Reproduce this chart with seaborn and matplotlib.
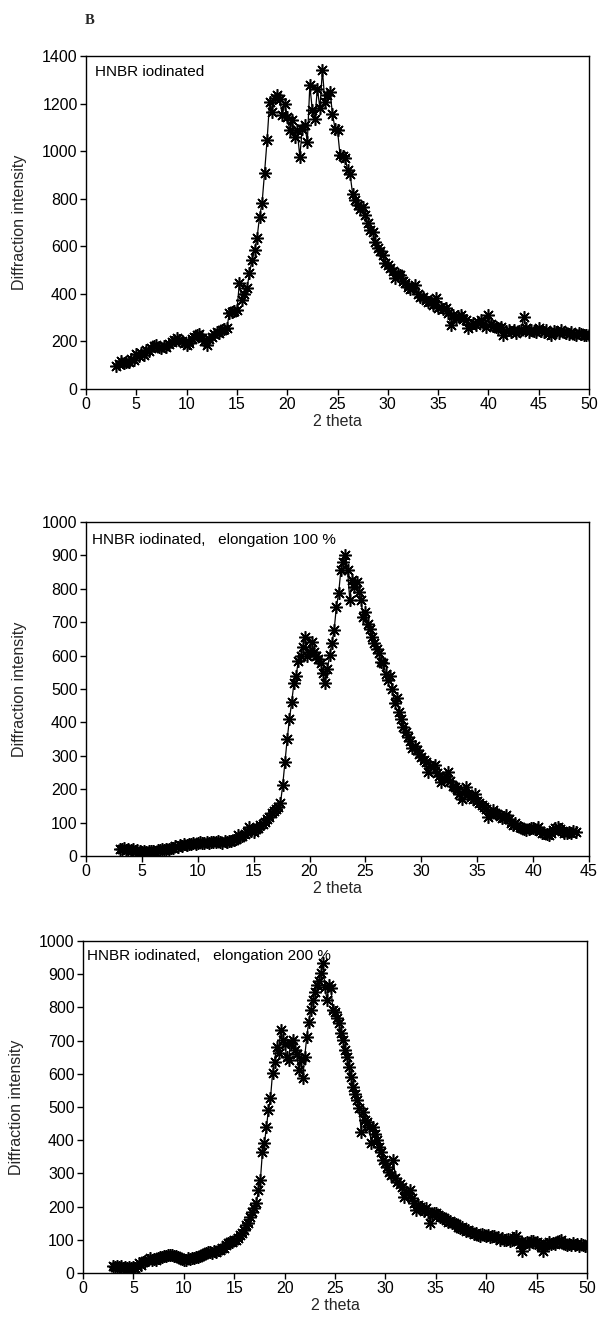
import numpy as np
import pandas as pd
import matplotlib
matplotlib.use("Agg")
import matplotlib.pyplot as plt
import seaborn as sns

# ---------------- data ----------------
top_start, top_step = 3.0, 0.25
top_intensity = [
    95, 105, 118, 110, 115, 112, 128, 120, 147, 140, 150, 145, 164, 158, 172, 180,
    185, 175, 172, 180, 178, 190, 198, 205, 214, 205, 200, 192, 185, 195, 212, 220,
    227, 232, 215, 200, 185, 210, 220, 232, 241, 235, 248, 252, 256, 319, 322, 330,
    332, 445, 374, 400, 424, 487, 542, 584, 634, 724, 781, 910, 1046, 1207, 1165, 1225,
    1235, 1221, 1151, 1200, 1144, 1088, 1130, 1060, 1088, 976, 1095, 1109, 1039, 1277, 1172, 1137,
    1263, 1180, 1340, 1207, 1235, 1249, 1158, 1095, 1088, 985, 980, 972, 920, 905, 820, 794,
    772, 758, 766, 731, 700, 668, 661, 619, 591, 580, 563, 528, 520, 507, 495, 465,
    482, 479, 455, 445, 430, 420, 425, 437, 400, 388, 385, 375, 367, 372, 352, 381,
    339, 345, 335, 339, 320, 269, 311, 300, 305, 311, 295, 288, 255, 270, 276, 268,
    280, 290, 275, 262, 311, 272, 265, 262, 258, 262, 227, 245, 250, 240, 248, 235,
    245, 250, 304, 255, 241, 250, 245, 240, 255, 245, 240, 250, 235, 227, 245, 240,
    235, 248, 240, 235, 232, 238, 230, 227, 235, 230, 228, 227, 225,
]

mid_start, mid_step = 3.0, 0.2
mid_intensity = [
    22, 20, 24, 18, 21,   17, 20, 15, 18, 14,   13, 16, 12, 15, 14,   16, 13, 18, 17, 20,
    18, 22, 20, 25, 24,   30, 28, 33, 30, 35,   34, 37, 35, 38, 36,   38, 41, 39, 40, 42,
    40, 43, 42, 41, 44,   43, 40, 45, 43, 46,   44, 48, 52, 63, 58,   60, 65, 72, 88, 75,
    72, 80, 85, 92, 95,   102, 110, 118, 128, 135,   140, 148, 158, 213, 282,
    350, 410, 460, 517, 540,   585, 600, 625, 657, 600,   612, 640, 612, 600, 590,
    577, 547, 517, 560, 602,   637, 677, 746, 786, 856,   880, 901, 856, 766, 826,
    806, 820, 790, 766, 716,   730, 696, 680, 657, 637,   620, 607, 580, 577, 545,
    527, 540, 500, 457, 472,   432, 410, 387, 372, 357,   345, 322, 330, 317, 305,
    295, 287, 280, 252, 270,   265, 272, 250, 240, 222,   235, 240, 252, 225, 210,
    207, 200, 185, 172, 195,   207, 185, 178, 170, 187,   165, 160, 153, 148, 140,
    118, 130, 138, 128, 125,   120, 115, 118, 123, 110,   100, 93, 98, 90, 88,
    85, 82, 78, 80, 84,   85, 80, 88, 75, 70,   68, 65, 63, 70, 78,
    85, 88, 80, 75, 70,   68, 72, 70, 74, 73,
]

bot_start, bot_step = 3.0, 0.2
bot_intensity = [
    20, 18, 22, 17, 20,   16, 19, 14, 17, 15,   18, 14, 22, 29, 25,   32, 36, 40, 44, 38,
    42, 40, 45, 47, 49,   50, 52, 55, 53, 54,   52, 50, 48, 45, 42,   40, 39, 44, 42, 46,
    45, 49, 47, 52, 55,   58, 60, 62, 64, 60,   65, 63, 68, 70, 74,   74, 85, 90, 94, 92,
    98, 100, 105, 114, 120,   130, 145, 150, 170, 185,   195, 210, 250, 280, 365,
    391, 441, 491, 526, 601,   636, 682, 662, 732, 702,   690, 652, 642, 692, 702,
    672, 660, 611, 642, 586,   652, 712, 757, 792, 822,   847, 867, 880, 903, 933,
    862, 822, 867, 857, 792,   787, 767, 752, 722, 702,   672, 652, 621, 591, 561,
    540, 521, 496, 426, 486,   461, 455, 441, 391, 441,   420, 401, 380, 365, 340,
    330, 318, 305, 295, 340,   285, 275, 268, 260, 230,   245, 240, 250, 225, 210,
    190, 205, 198, 192, 188,   195, 185, 150, 178, 182,   180, 175, 170, 168, 165,
    160, 155, 158, 152, 150,   148, 140, 135, 138, 132,   128, 130, 125, 122, 118,
    120, 115, 112, 118, 114,   110, 115, 108, 112, 110,   105, 108, 100, 104, 100,
    98, 102, 95, 100, 105,   110, 95, 88, 65, 90,   92, 88, 95, 95, 90,
    92, 88, 80, 65, 85,   88, 92, 86, 90, 88,   92, 95, 100, 90, 86,
    85, 88, 85, 90, 84,   86, 82, 88, 84, 82,   80,
]

titles = ["HNBR iodinated",
          "HNBR iodinated,   elongation 100 %",
          "HNBR iodinated,   elongation 200 %"]
xlims = [50, 45, 50]
ylims = [1400, 1000, 1000]
ysteps = [200, 100, 100]
x_label = "2 theta"
y_label = "Diffraction intensity"
panel_letter = "B"

# ---------------- style ----------------
sns.set_style("ticks")
plt.rcParams["font.family"] = ["Liberation Sans", "DejaVu Sans"]
plt.rcParams["axes.linewidth"] = 1.0
plt.rcParams["xtick.major.width"] = 1.0
plt.rcParams["ytick.major.width"] = 1.0

W, H = 602, 1317
fig = plt.figure(figsize=(W / 100, H / 100), dpi=100)

# axes frames in pixels: left, right, top, bottom
frames = [(86, 589, 56, 389), (86, 589, 522, 856), (83, 587, 941, 1273)]
series = [(top_start, top_step, top_intensity),
          (mid_start, mid_step, mid_intensity),
          (bot_start, bot_step, bot_intensity)]
title_pos = [(0.018, 0.952), (0.012, 0.946), (0.008, 0.955)]

for i in range(3):
    l, r, t, b = frames[i]
    ax = fig.add_axes([l / W, 1 - b / H, (r - l) / W, (b - t) / H])
    start, step, vals = series[i]
    df = pd.DataFrame({"two_theta": start + step * np.arange(len(vals)),
                       "intensity": vals})
    sns.lineplot(data=df, x="two_theta", y="intensity", ax=ax, color="black",
                 linewidth=0.9, marker=(8, 2, 0), markersize=9,
                 markeredgewidth=1.15, markeredgecolor="black",
                 errorbar=None)
    ax.set_xlim(0, xlims[i])
    ax.set_ylim(0, ylims[i])
    ax.set_xticks(np.arange(0, xlims[i] + 1, 5))
    ax.set_yticks(np.arange(0, ylims[i] + 1, ysteps[i]))
    ax.tick_params(axis="both", labelsize=11.5, length=4, pad=2, direction="out",
                   colors="black")
    ax.tick_params(axis="x", top=False)
    ax.tick_params(axis="y", right=False)
    for s in ax.spines.values():
        s.set_visible(True)
        s.set_color("black")
    ax.set_xlabel(x_label, fontsize=11.5, labelpad=1)
    ax.set_ylabel(y_label, fontsize=11.5)
    ax.yaxis.set_label_coords(-0.118, 0.5)
    ax.text(title_pos[i][0], title_pos[i][1], titles[i], transform=ax.transAxes,
            fontsize=11, va="center", ha="left", color="black")

fig.text(85 / W, 1 - 20 / H, panel_letter, fontsize=10.5, fontweight="bold",
         family=["Liberation Serif", "DejaVu Serif"], va="center", ha="left")

fig.savefig("out.png", dpi=100)
